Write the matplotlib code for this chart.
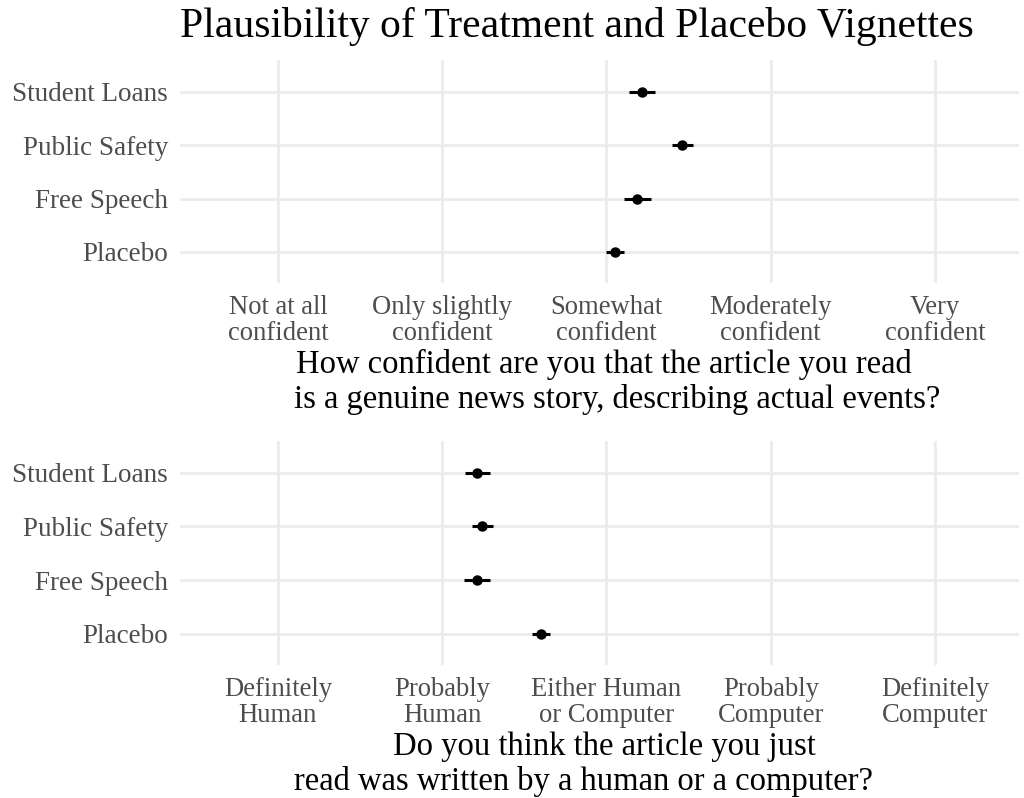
import matplotlib
matplotlib.use("Agg")
import matplotlib.pyplot as plt

# ---- data ----
categories = ["Placebo", "Free Speech", "Public Safety", "Student Loans"]

conf_labels = ["Not at all\nconfident", "Only slightly\nconfident", "Somewhat\nconfident",
               "Moderately\nconfident", "Very\nconfident"]
conf_mean = [3.053, 3.187, 3.460, 3.215]
conf_lo = [2.998, 3.108, 3.396, 3.136]
conf_hi = [3.108, 3.268, 3.528, 3.298]

hc_labels = ["Definitely\nHuman", "Probably\nHuman", "Either Human\nor Computer",
             "Probably\nComputer", "Definitely\nComputer"]
hc_mean = [2.603, 2.209, 2.243, 2.213]
hc_lo = [2.546, 2.134, 2.179, 2.138]
hc_hi = [2.659, 2.288, 2.308, 2.290]

title = "Plausibility of Treatment and Placebo Vignettes"
top_xtitle = ["How confident are you that the article you read",
              "is a genuine news story, describing actual events?"]
bot_xtitle = ["Do you think the article you just",
              "read was written by a human or a computer?"]

# ---- style ----
FONT = "Liberation Serif"
W, H = 1024, 798
GRID = "#EBEBEB"
TICKC = "#4D4D4D"

fig = plt.figure(figsize=(W / 100, H / 100), dpi=100)
fig.patch.set_facecolor("white")


def fx(px):
    return px / W


def fy(py):
    return 1 - py / H


def make_panel(top_px, bot_px, means, lo, hi, xlabels):
    ax = fig.add_axes([fx(180), fy(bot_px), fx(1019) - fx(180), fy(top_px) - fy(bot_px)])
    ypos = list(range(1, len(categories) + 1))
    ax.set_xlim(0.404, 5.511)
    ax.set_ylim(0.42, 4.59)
    ax.set_xticks([1, 2, 3, 4, 5])
    ax.set_xticklabels(xlabels, family=FONT, fontsize=19.2, color=TICKC, linespacing=1.05)
    ax.set_yticks(ypos)
    ax.set_yticklabels(categories, family=FONT, fontsize=19.5, color=TICKC)
    ax.tick_params(length=0)
    ax.tick_params(axis="y", pad=8.5)
    ax.tick_params(axis="x", pad=9)
    for s in ax.spines.values():
        s.set_visible(False)
    ax.grid(True, color=GRID, linewidth=2.0)
    ax.set_axisbelow(True)
    ax.hlines(ypos, lo, hi, color="black", linewidth=2.2, zorder=3)
    ax.plot(means, ypos, "o", color="black", markersize=6.5, zorder=4)
    return ax


ax1 = make_panel(60, 283, conf_mean, conf_lo, conf_hi, conf_labels)
ax2 = make_panel(441, 665, hc_mean, hc_lo, hc_hi, hc_labels)

fig.text(fx(180), fy(37), title, family=FONT, fontsize=30, color="black",
         ha="left", va="baseline")

TS = 23.5
fig.text(fx(604), fy(373), top_xtitle[0], family=FONT, fontsize=TS, ha="center", va="baseline")
fig.text(fx(617), fy(408), top_xtitle[1], family=FONT, fontsize=TS, ha="center", va="baseline")
fig.text(fx(604), fy(755), bot_xtitle[0], family=FONT, fontsize=TS, ha="center", va="baseline")
fig.text(fx(584), fy(790), bot_xtitle[1], family=FONT, fontsize=TS, ha="center", va="baseline")

fig.savefig("out.png", dpi=100, facecolor="white")
